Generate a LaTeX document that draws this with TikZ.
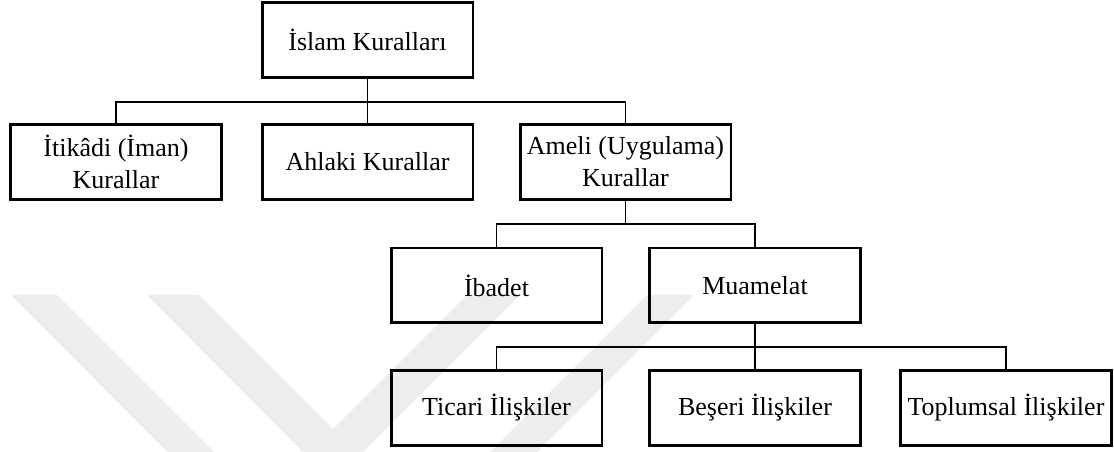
\documentclass[tikz,border=0pt]{standalone}
\usepackage{fontspec}
\setmainfont{Liberation Serif}
\usepackage{tikz}

\tikzset{
	kutu/.style={draw, line width=2pt, minimum width=158pt, minimum height=56pt, align=center, inner sep=1pt, font=\fontsize{19.5}{24}\selectfont},
	hat/.style={line width=1.2pt},
	filigran/.style={fill=black!7, draw=none}
}

\begin{document}
\begin{tikzpicture}[x=0.75pt,y=-0.75pt]
			\useasboundingbox (0,0) rectangle (1114,452);
			\begin{scope}
				\clip (0,295) rectangle (1114,452);
				\fill[filigran] (147,295) -- (199,295) -- (333,429) -- (467,295) -- (520,295) -- (333,482) -- cycle;
				\fill[filigran] (11,295) -- (57,295) -- (352,590) -- (647,295) -- (694,295) -- (352,637) -- cycle;
			\end{scope}
			\node[kutu] (islam) at (367.5,40) {İslam Kuralları};
			\node[kutu] (itikadi) at (116,162) {İtikâdi (İman)\\Kurallar};
			\node[kutu] (ahlaki) at (367.5,162) {Ahlaki Kurallar};
			\node[kutu] (ameli) at (625.5,162) {Ameli (Uygulama)\\Kurallar};
			\node[kutu] (ibadet) at (496.5,285.5) {İbadet};
			\node[kutu] (muamelat) at (755,285.5) {Muamelat};
			\node[kutu] (ticari) at (496.5,408) {Ticari İlişkiler};
			\node[kutu] (beseri) at (755,408) {Beşeri İlişkiler};
			\node[kutu] (toplumsal) at (1006,408) {Toplumsal İlişkiler};
			\coordinate (k1) at (367.5,102);
			\coordinate (k2) at (625.5,224);
			\coordinate (k3) at (755,347);
			\draw[hat] (islam) -- (ahlaki);
			\draw[hat] (itikadi.north) |- (k1) -| (ameli.north);
			\draw[hat] (ameli) -- (k2);
			\draw[hat] (ibadet.north) |- (k2) -| (muamelat.north);
			\draw[hat] (muamelat) -- (beseri);
			\draw[hat] (ticari.north) |- (k3) -| (toplumsal.north);
		\end{tikzpicture}
\end{document}
